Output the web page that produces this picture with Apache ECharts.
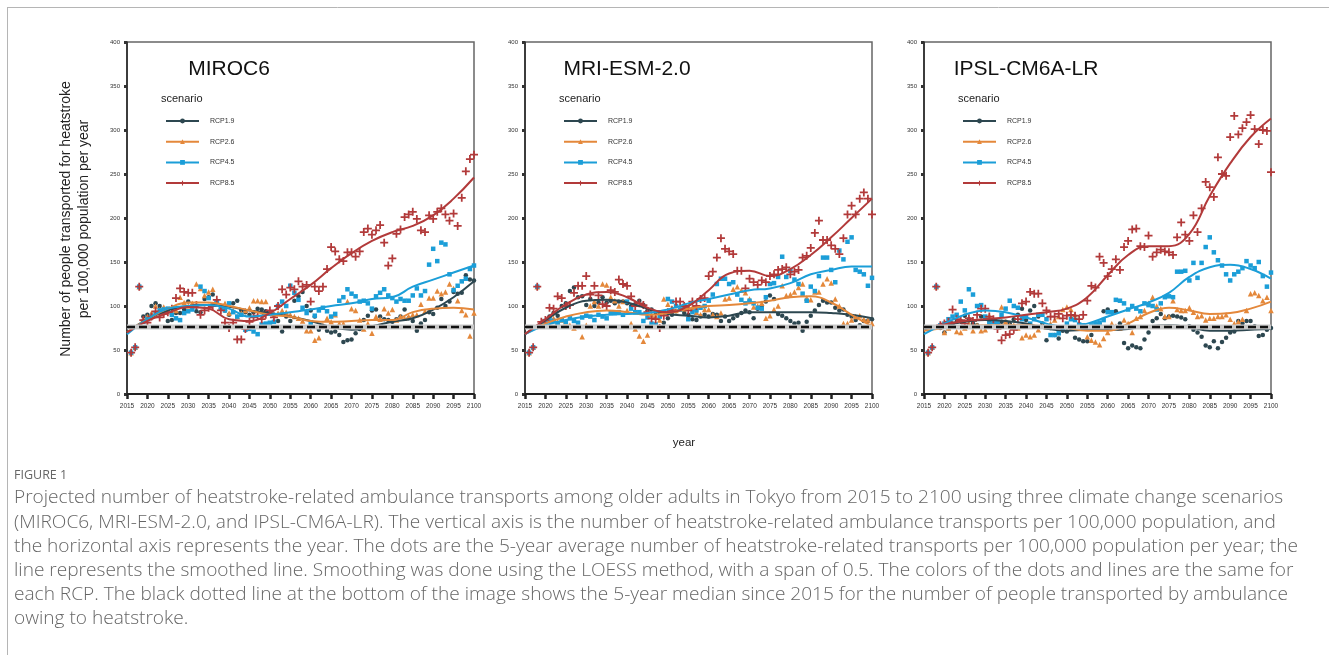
<!DOCTYPE html>
<html><head><meta charset="utf-8">
<script src="https://cdn.jsdelivr.net/npm/echarts@6/dist/echarts.min.js"></script>
<style>html,body{margin:0;padding:0;background:#fff}#c{width:1329px;height:655px}</style>
</head><body><div id="c"></div>
<script>
// ---------- DATA ----------
const models = ['MIROC6', 'MRI-ESM-2.0', 'IPSL-CM6A-LR'];
const scenarios = ['RCP1.9', 'RCP2.6', 'RCP4.5', 'RCP8.5'];
const pointStartYear = 2016;               // annual points 2016..2100
const fitYears = [2015,2020,2025,2030,2035,2040,2045,2050,2055,2060,2065,2070,2075,2080,2085,2090,2095,2100];
const medianLine = [76, 76, 76];           // 5-year median since 2015 (per panel)

// MIROC6 points
const miroc6_rcp19 = [47,53,122,88,90,100,103,100,96,83, 84,92,92,96,105,100,94,93,108,110, 113,105,97,95,90,103,106,95,93,90, 93,97,96,94,92,90,83,71,88,83, 106,111,116,100,95,88,73,76,72,70, 71,67,59,61,62,69,74,84,89,95, 96,88,85,84,82,85,88,96,86,83, 72,80,84,93,91,98,108,100,105,116, 114,115,135,130,129];
const miroc6_rcp26 = [47,53,122,85,88,92,100,96,99,95, 93,95,110,104,100,103,125,120,112,116, 119,106,98,103,92,95,88,92,95,98, 106,106,105,105,93,90,92,95,93,90, 88,86,83,72,72,61,64,78,86,82, 90,80,80,105,97,95,84,74,80,69, 88,85,97,92,96,84,88,86,88,90, 90,102,94,109,109,117,114,116,125,120, 106,95,90,66,92];
const miroc6_rcp45 = [47,53,122,82,85,88,92,95,96,97, 90,86,84,92,94,96,100,122,117,109, 102,105,98,95,103,93,88,90,73,74, 71,68,79,80,81,82,100,105,100,123, 115,107,98,92,81,89,95,98,94,88, 91,106,110,119,114,111,105,106,103,97, 111,115,119,112,109,105,108,106,106,112, 120,112,117,147,165,151,172,170,136,118, 123,128,131,142,146];
const miroc6_rcp85 = [47,53,122,84,81,88,94,87,91,93, 97,109,120,116,115,115,101,90,95,98, 100,107,95,81,75,81,62,62,74,82, 87,89,85,90,95,87,100,119,113,121, 119,128,122,124,105,122,117,122,142,167, 162,153,151,161,161,156,162,184,188,181, 186,192,172,146,154,182,187,201,204,207, 199,186,184,203,199,207,211,204,197,205, 191,223,253,267,272];
// MIROC6 smoothed (LOESS) lines at fitYears
const miroc6_fit19 = [70,85,95,100,101,99,95,92,88,83,76,73,77,82,86,96,110,128];
const miroc6_fit26 = [70,85,97,104,104,100,95,90,88,83,82,83,84,84,93,97,98,96];
const miroc6_fit45 = [68,85,97,100,101,97,88,90,93,96,100,103,108,110,122,130,138,146];
const miroc6_fit85 = [70,83,92,99,97,85,83,92,108,124,143,160,174,184,191,203,222,246];

// MRI-ESM-2.0 points
const mri_rcp19 = [47,53,122,80,83,88,92,89,100,103, 117,121,110,111,101,108,100,104,110,104, 106,103,105,105,103,100,102,106,101,95, 96,93,93,81,86,90,94,96,92,90, 85,84,88,90,88,91,90,83,88,83, 86,89,92,95,93,86,97,100,105,112, 108,91,89,86,83,80,81,72,82,89, 95,101,106,104,104,98,95,96,90,88, 84,78,83,83,85];
const mri_rcp26 = [47,53,122,78,80,84,86,82,84,82, 78,75,80,65,78,100,105,100,125,124, 110,106,100,105,95,80,74,66,60,67, 90,88,84,108,102,98,95,97,97,100, 98,93,90,96,96,90,88,92,108,109, 119,122,118,115,108,99,100,103,86,89, 96,100,123,112,113,116,121,125,109,107, 116,116,125,131,126,108,100,80,80,84, 88,89,85,84,80];
const mri_rcp45 = [47,53,122,78,83,85,83,80,84,82, 86,83,81,87,89,88,84,90,88,86, 92,92,93,90,105,97,93,93,83,87, 80,79,88,93,108,105,100,96,100,85, 93,95,98,100,106,113,125,131,131,125, 127,113,107,103,106,103,98,97,110,125, 126,133,156,133,140,130,125,114,106,122, 117,134,155,155,141,127,163,153,173,178, 141,139,136,123,132];
const mri_rcp85 = [47,53,122,82,84,98,97,111,109,100, 101,115,123,123,134,113,123,112,102,100, 118,116,130,125,123,111,100,103,101,93, 86,85,75,89,93,95,105,105,100,95, 105,100,108,109,134,139,155,177,165,162, 159,140,140,120,131,127,124,129,127,134, 136,141,142,144,136,139,141,155,157,166, 183,197,175,175,169,165,159,177,204,214, 204,222,229,222,204];
const mri_fit19 = [68,84,98,106,107,104,97,91,89,87,89,93,93,93,93,92,90,86];
const mri_fit26 = [68,80,88,93,95,93,90,92,97,100,101,103,106,110,111,104,90,77];
const mri_fit45 = [68,78,84,88,90,91,92,96,103,108,113,118,120,126,136,141,145,145];
const mri_fit85 = [68,85,102,113,116,110,98,93,100,118,137,140,134,142,158,178,200,222];

// IPSL-CM6A-LR points
const ipsl_rcp19 = [47,53,122,75,70,75,80,82,83,89, 85,80,78,88,86,83,82,80,82,82, 80,85,90,97,84,95,100,88,80,61, 75,67,63,72,71,75,64,62,60,60, 67,75,80,94,96,93,94,80,58,52, 55,53,52,62,70,83,86,91,86,88, 89,88,87,85,77,73,70,65,55,53, 60,52,59,64,70,71,83,80,83,83, 77,66,67,73,75];
const ipsl_rcp26 = [47,53,122,78,70,75,78,71,70,75, 80,72,78,72,73,89,84,80,99,82, 78,78,75,64,67,65,67,73,77,76, 80,84,88,96,99,96,90,80,75,65, 61,59,56,63,70,80,77,75,84,80, 70,86,88,95,103,110,100,97,88,88, 106,96,95,95,98,93,88,89,84,86, 86,88,88,90,85,80,82,85,95,114, 115,112,106,110,95];
const ipsl_rcp45 = [47,53,122,78,80,85,88,90,105,95, 119,113,100,101,88,80,82,82,90,97, 106,100,98,85,88,80,85,90,90,85, 67,67,69,74,80,85,84,79,78,75, 78,80,81,84,93,93,107,106,103,96, 100,97,94,103,101,100,96,103,110,111, 110,139,139,140,129,149,132,149,167,178, 161,152,146,136,129,136,139,143,151,146, 143,150,134,122,138];
const ipsl_rcp85 = [47,53,122,78,80,82,96,85,84,80, 86,83,90,97,97,88,85,74,61,67, 68,73,85,103,105,116,114,114,103,95, 88,88,91,86,89,90,89,85,90,106, 123,121,156,149,134,142,153,141,167,174, 187,188,168,167,180,156,161,164,162,161, 158,178,195,181,174,203,184,211,241,235, 224,269,250,248,292,316,295,302,309,317, 301,284,300,299,252];
const ipsl_fit19 = [73,78,82,84,83,80,74,72,73,73,74,77,78,76,72,72,73,74];
const ipsl_fit26 = [72,75,77,78,78,78,77,75,72,72,80,92,98,95,91,92,97,105];
const ipsl_fit45 = [68,80,90,95,93,87,80,76,80,88,96,104,115,133,144,147,142,131];
const ipsl_fit85 = [75,79,83,85,87,90,93,97,110,135,158,168,168,182,225,262,292,313];

const yAxisTitle = 'Number of people transported for heatstroke\nper 100,000 population per year';
const xAxisTitle = 'year';
const figureLabel = 'FIGURE 1';
const captionLines = [
 'Projected number of heatstroke-related ambulance transports among older adults in Tokyo from 2015 to 2100 using three climate change scenarios',
 '(MIROC6, MRI-ESM-2.0, and IPSL-CM6A-LR). The vertical axis is the number of heatstroke-related ambulance transports per 100,000 population, and',
 'the horizontal axis represents the year. The dots are the 5-year average number of heatstroke-related transports per 100,000 population per year; the',
 'line represents the smoothed line. Smoothing was done using the LOESS method, with a span of 0.5. The colors of the dots and lines are the same for',
 'each RCP. The black dotted line at the bottom of the image shows the 5-year median since 2015 for the number of people transported by ambulance',
 'owing to heatstroke.'
];

// ---------- BUILD ----------
const panelPoints = [
  [miroc6_rcp19, miroc6_rcp26, miroc6_rcp45, miroc6_rcp85],
  [mri_rcp19, mri_rcp26, mri_rcp45, mri_rcp85],
  [ipsl_rcp19, ipsl_rcp26, ipsl_rcp45, ipsl_rcp85]
];
const panelFits = [
  [miroc6_fit19, miroc6_fit26, miroc6_fit45, miroc6_fit85],
  [mri_fit19, mri_fit26, mri_fit45, mri_fit85],
  [ipsl_fit19, ipsl_fit26, ipsl_fit45, ipsl_fit85]
];
const colors = ['#2d4750', '#e4883b', '#1b9ed8', '#b23a3a'];
const PLUS = 'path://M3.9,0H6.1V3.9H10V6.1H6.1V10H3.9V6.1H0V3.9H3.9Z';
const symbols = ['circle', 'triangle', 'rect', PLUS];
const symbolSizes = [4.5, 5.5, 4.5, 8];

const gridLefts = [127, 525, 924];
const gridTop = 42, gridW = 347, gridH = 352;
const FONT = 'Liberation Sans, Arial, sans-serif';

const grids = [], xAxes = [], yAxes = [], lineSeries = [], pointSeries = [], medSeries = [], legends = [], graphics = [];

gridLefts.forEach((gl, p) => {
  grids.push({left: gl, top: gridTop, width: gridW, height: gridH, show: true,
    borderColor: '#666', borderWidth: 1.5, backgroundColor: 'transparent',
    containLabel: false, outerBoundsMode: 'none'});
  xAxes.push({type: 'value', gridIndex: p, min: 2015, max: 2100, interval: 5,
    axisLine: {show: true, onZero: false, lineStyle: {color: '#222', width: 2}},
    axisTick: {show: true, length: 5, lineStyle: {color: '#222', width: 2.5}},
    axisLabel: {show: true, fontSize: 6.5, color: '#333', margin: 9, fontFamily: FONT,
      showMinLabel: true, showMaxLabel: true, formatter: v => String(v)},
    splitLine: {show: false}});
  yAxes.push({type: 'value', gridIndex: p, min: 0, max: 400, interval: 50,
    axisLine: {show: true, onZero: false, lineStyle: {color: '#222', width: 1.5}},
    axisTick: {show: true, length: 3, lineStyle: {color: '#333', width: 3}},
    axisLabel: {show: true, fontSize: 6, color: '#333', margin: 7, fontFamily: FONT},
    splitLine: {show: false}});
  scenarios.forEach((sc, s) => {
    lineSeries.push({name: sc, type: 'line', xAxisIndex: p, yAxisIndex: p, z: 3,
      data: fitYears.map((y, i) => [y, panelFits[p][s][i]]),
      smooth: 0.45, showSymbol: false, symbol: symbols[s], symbolSize: symbolSizes[s],
      lineStyle: {color: colors[s], width: 2}, itemStyle: {color: colors[s]}, silent: true});
    pointSeries.push({name: sc, type: 'scatter', xAxisIndex: p, yAxisIndex: p, z: 2,
      data: panelPoints[p][s].map((v, i) => [pointStartYear + i, v]),
      symbol: symbols[s], symbolSize: symbolSizes[s], itemStyle: {color: colors[s], opacity: 1}, silent: true});
  });
  const med = [[2015, medianLine[p]], [2100, medianLine[p]]];
  medSeries.push({name: 'median-bg', type: 'line', xAxisIndex: p, yAxisIndex: p, z: 4, data: med,
    symbol: 'none', lineStyle: {color: '#c8c8c8', width: 5}, silent: true});
  medSeries.push({name: 'median', type: 'line', xAxisIndex: p, yAxisIndex: p, z: 5, data: med,
    symbol: 'none', lineStyle: {color: '#111', width: 2.5, type: [8, 4]}, silent: true});
  legends.push({data: scenarios, orient: 'vertical', left: gl + 38, top: 117, padding: 0,
    itemWidth: 33, itemHeight: 6, itemGap: 12.7, selectedMode: false,
    textStyle: {fontSize: 7, color: '#333', fontFamily: FONT, lineHeight: 8, padding: [0, 0, 0, 6]}});
  graphics.push({type: 'text', x: gl + 102, y: 69, style: {text: models[p], font: '21px ' + FONT,
    fill: '#111', textAlign: 'center', textVerticalAlign: 'middle'}});
  graphics.push({type: 'text', x: gl + 34, y: 99, style: {text: 'scenario', font: '11px ' + FONT,
    fill: '#222', textAlign: 'left', textVerticalAlign: 'middle'}});
});

// figure frame
graphics.push({type: 'line', shape: {x1: 7, y1: 7.5, x2: 1329, y2: 7.5}, style: {stroke: '#b5b5b5', lineWidth: 1}});
graphics.push({type: 'line', shape: {x1: 7.5, y1: 7, x2: 7.5, y2: 655}, style: {stroke: '#b5b5b5', lineWidth: 1}});
// axis titles
graphics.push({type: 'text', x: 75, y: 219, rotation: Math.PI / 2,
  style: {text: yAxisTitle, font: '14px ' + FONT, fill: '#222', textAlign: 'center', textVerticalAlign: 'middle', lineHeight: 18}});
graphics.push({type: 'text', x: 684, y: 443, style: {text: xAxisTitle, font: '11.5px ' + FONT, fill: '#222', textAlign: 'center', textVerticalAlign: 'middle'}});
// caption
const capFont = '"Open Sans", Lato, sans-serif';
const mctx = document.createElement('canvas').getContext('2d');
mctx.font = '300 100px ' + capFont;
const capSize = 100 * 1270 / mctx.measureText(captionLines[0]).width;
graphics.push({type: 'text', x: 14, y: 475, style: {text: figureLabel, font: '12.5px ' + capFont, fill: '#666',
  textAlign: 'left', textVerticalAlign: 'middle'}});
captionLines.forEach((ln, i) => {
  graphics.push({type: 'text', x: 14, y: 498 + i * 24.2, style: {text: ln, font: '300 ' + capSize.toFixed(2) + 'px ' + capFont,
    fill: '#666', textAlign: 'left', textVerticalAlign: 'middle'}});
});

const chart = echarts.init(document.getElementById('c'));
chart.setOption({
  animation: false,
  backgroundColor: '#fff',
  grid: grids, xAxis: xAxes, yAxis: yAxes,
  legend: legends,
  series: [...lineSeries, ...pointSeries, ...medSeries],
  graphic: graphics
});
</script></body></html>
